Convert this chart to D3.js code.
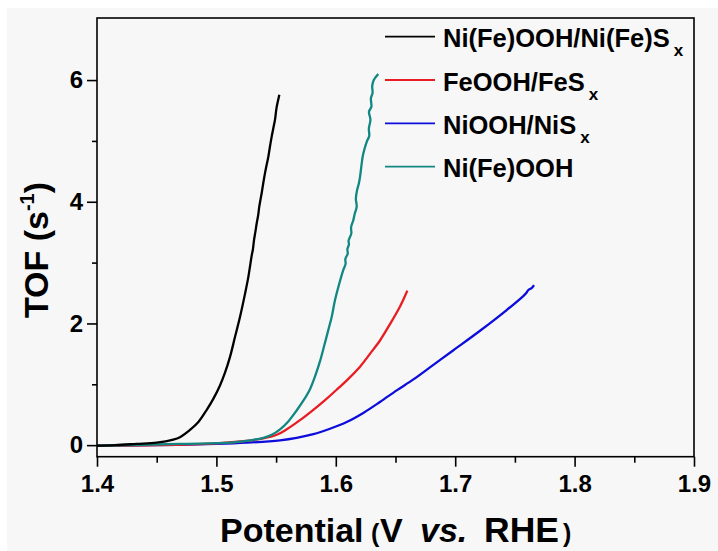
<!DOCTYPE html>
<html>
<head>
<meta charset="utf-8">
<script src="https://cdn.jsdelivr.net/npm/d3@7"></script>
<style>
  html, body { margin: 0; padding: 0; background: #ffffff; }
  svg { display: block; }
  text { font-family: "Liberation Sans", Arial, sans-serif; font-weight: bold; fill: #000; }
</style>
</head>
<body>
<svg id="chart" width="718" height="551"></svg>
<script>
// TOF vs. potential for the four catalysts: [potential (V vs. RHE), TOF (s^-1)]
const seriesNames = ["Ni(Fe)OOH/Ni(Fe)S", "FeOOH/FeS", "NiOOH/NiS", "Ni(Fe)OOH"];
const seriesSub = ["x", "x", "x", ""];
const seriesColors = ["#000000", "#e81d22", "#0c0cdc", "#118783"];

const nifeSx = [
  [1.400, -0.01], [1.415, 0.00], [1.433, 0.02], [1.450, 0.04], [1.4639, 0.09], [1.4695, 0.13],
  [1.4779, 0.25], [1.4849, 0.38], [1.4919, 0.58], [1.4974, 0.76], [1.5030, 0.98],
  [1.5072, 1.19], [1.5114, 1.45], [1.5156, 1.78], [1.5198, 2.11], [1.5240, 2.49],
  [1.5268, 2.77], [1.5296, 3.12], [1.5306, 3.22], [1.5315, 3.37], [1.5326, 3.50], [1.5338, 3.65],
  [1.5350, 3.78], [1.5359, 3.92], [1.5368, 4.02], [1.5379, 4.14], [1.5392, 4.30], [1.5407, 4.47],
  [1.5420, 4.60], [1.5435, 4.74], [1.5448, 4.90], [1.5463, 5.07], [1.5478, 5.22], [1.5491, 5.35],
  [1.5498, 5.46], [1.5505, 5.56], [1.5516, 5.66], [1.5527, 5.76]
];
const feSx = [
  [1.400, -0.01], [1.450, 0.00], [1.500, 0.03], [1.520, 0.06], [1.5393, 0.11], [1.5505, 0.17],
  [1.5589, 0.26], [1.5700, 0.41], [1.5812, 0.58], [1.5910, 0.74], [1.6007, 0.91], [1.6105, 1.09],
  [1.6203, 1.29], [1.6286, 1.50], [1.6370, 1.72], [1.6454, 1.99], [1.6538, 2.28], [1.6570, 2.41],
  [1.6599, 2.54]
];
const niSx = [
  [1.400, -0.01], [1.450, 0.00], [1.500, 0.02], [1.5254, 0.04], [1.5533, 0.08], [1.5672, 0.12],
  [1.5812, 0.18], [1.5951, 0.27], [1.6091, 0.38], [1.6230, 0.53], [1.6370, 0.71], [1.6510, 0.90],
  [1.6650, 1.08], [1.6817, 1.32], [1.6985, 1.56], [1.7208, 1.88], [1.7431, 2.22],
  [1.7570, 2.45], [1.7595, 2.50], [1.7613, 2.55], [1.7640, 2.58], [1.7660, 2.63]
];
const nifeOOH = [
  [1.400, -0.01], [1.4695, 0.02], [1.5114, 0.04], [1.5254, 0.07], [1.5393, 0.12], [1.5463, 0.17],
  [1.5533, 0.26], [1.5602, 0.39], [1.5672, 0.57], [1.5728, 0.73], [1.5784, 0.92], [1.5826, 1.13],
  [1.5868, 1.38], [1.5901, 1.62], [1.5937, 1.89], [1.5966, 2.11], [1.5993, 2.38], [1.6030, 2.66],
  [1.6063, 2.88], [1.6082, 2.98], [1.6080, 3.06], [1.6100, 3.15], [1.6097, 3.22], [1.6110, 3.30],
  [1.6107, 3.36], [1.6130, 3.48], [1.6128, 3.58], [1.6147, 3.70], [1.6158, 3.80], [1.6175, 3.92],
  [1.6168, 4.05], [1.6178, 4.19], [1.6193, 4.30], [1.6203, 4.41], [1.6210, 4.52], [1.6217, 4.63],
  [1.6225, 4.74], [1.6238, 4.85], [1.6262, 5.00], [1.6280, 5.08], [1.6277, 5.20], [1.6290, 5.35],
  [1.6278, 5.48], [1.6298, 5.56], [1.6294, 5.70], [1.6308, 5.79], [1.6305, 5.90], [1.6318, 6.00],
  [1.6335, 6.05], [1.6356, 6.10]
];
const seriesData = [nifeSx, feSx, niSx, nifeOOH];

const xMajorTicks = [1.4, 1.5, 1.6, 1.7, 1.8, 1.9];
const xMinorTicks = [1.45, 1.55, 1.65, 1.75, 1.85];
const yMajorTicks = [0, 2, 4, 6];
const yMinorTicks = [1, 3, 5];

const svg = d3.select("#chart");
const W = 718, H = 551;
const plot = { left: 97, top: 18, right: 694, bottom: 456.7 };

// paper tone behind everything
svg.append("rect").attr("x", 7).attr("y", 8).attr("width", W - 7).attr("height", H - 8)
  .attr("fill", "#f7f7f7");

const x = d3.scaleLinear().domain([1.4, 1.9]).range([plot.left, plot.right]);
const y = d3.scaleLinear().domain([-0.19, 7.02]).range([plot.bottom, plot.top]);

// axes: major ticks with labels, minor ticks without
const gxMaj = svg.append("g").attr("transform", `translate(0,${plot.bottom})`)
  .call(d3.axisBottom(x).tickValues(xMajorTicks).tickSize(10).tickPadding(8)
    .tickFormat(d3.format(".1f")));
const gxMin = svg.append("g").attr("transform", `translate(0,${plot.bottom})`)
  .call(d3.axisBottom(x).tickValues(xMinorTicks).tickSize(6).tickFormat(""));
const gyMaj = svg.append("g").attr("transform", `translate(${plot.left},0)`)
  .call(d3.axisLeft(y).tickValues(yMajorTicks).tickSize(10).tickPadding(4)
    .tickFormat(d3.format("d")));
const gyMin = svg.append("g").attr("transform", `translate(${plot.left},0)`)
  .call(d3.axisLeft(y).tickValues(yMinorTicks).tickSize(5).tickFormat(""));

[gxMaj, gxMin, gyMaj, gyMin].forEach(g => {
  g.select(".domain").remove();
  g.selectAll(".tick line").attr("stroke", "#000").attr("stroke-width", 1.6);
  g.selectAll(".tick text").attr("font-size", 24).attr("font-family", "Liberation Sans, Arial, sans-serif")
    .attr("font-weight", "bold").attr("fill", "#000");
});

// curves
const line = d3.line().curve(d3.curveCatmullRom.alpha(0.5)).x(d => x(d[0])).y(d => y(d[1]));
const drawOrder = [2, 1, 3, 0];
drawOrder.forEach(i => {
  svg.append("path").datum(seriesData[i])
    .attr("fill", "none")
    .attr("stroke", seriesColors[i])
    .attr("stroke-width", 2.3)
    .attr("stroke-linejoin", "round")
    .attr("d", line);
});

// frame
svg.append("rect")
  .attr("x", plot.left).attr("y", plot.top)
  .attr("width", plot.right - plot.left).attr("height", plot.bottom - plot.top)
  .attr("fill", "none").attr("stroke", "#000").attr("stroke-width", 1.6);

// legend
const legend = svg.append("g");
seriesNames.forEach((name, i) => {
  const ly = 36.7 + i * 43.3;
  legend.append("line").attr("x1", 385).attr("x2", 435).attr("y1", ly).attr("y2", ly)
    .attr("stroke", seriesColors[i]).attr("stroke-width", 1.8);
  const t = legend.append("text").attr("x", 443).attr("y", ly + 10.5).attr("font-size", 25.5);
  t.append("tspan").text(name);
  if (seriesSub[i]) {
    t.append("tspan").attr("font-size", 17).attr("dx", 4).attr("dy", 9).text(seriesSub[i]);
  }
});

// axis titles
const xt = svg.append("text").attr("y", 542).attr("font-size", 34);
xt.append("tspan").attr("x", 220).text("Potential");
xt.append("tspan").attr("x", 371).attr("font-size", 25).text("(");
xt.append("tspan").attr("x", 380).text("V");
xt.append("tspan").attr("x", 420).attr("font-style", "italic").text("vs.");
xt.append("tspan").attr("x", 484).attr("font-size", 35.5).text("RHE");
xt.append("tspan").attr("x", 563).attr("font-size", 25).text(")");

const yt = svg.append("text").attr("transform", "translate(48,250) rotate(-90)")
  .attr("text-anchor", "middle").attr("font-size", 34);
yt.append("tspan").text("TOF (s");
yt.append("tspan").attr("font-size", 20).attr("dy", -14).text("-1");
yt.append("tspan").attr("dy", 14).text(")");
</script>
</body>
</html>
